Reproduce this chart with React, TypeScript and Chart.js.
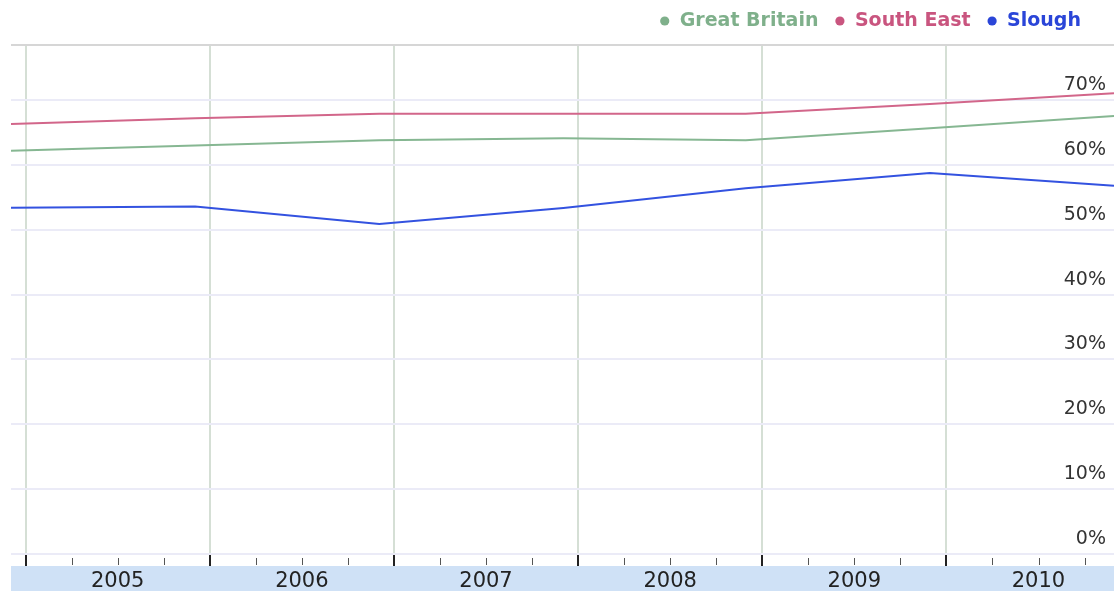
import React, { useEffect, useRef } from "react";
import { Chart, registerables } from "chart.js";

Chart.register(...registerables);

// Data
const pointDates = [2004.92, 2005.92, 2006.92, 2007.92, 2008.91, 2009.91, 2010.91];
const greatBritain = [62.2, 63.0, 63.8, 64.1, 63.8, 65.65, 67.55];
const southEast = [66.3, 67.2, 67.9, 67.9, 67.9, 69.4, 71.05];
const slough = [53.4, 53.6, 50.9, 53.35, 56.4, 58.76, 56.8];
const seriesNames = ["Great Britain", "South East", "Slough"];
const yearTicks = [2005, 2006, 2007, 2008, 2009, 2010];
const quarterOffsets = [0.25, 0.5, 0.75];
const yTicks = [0, 10, 20, 30, 40, 50, 60, 70];

const COLORS = ["#86b792", "#d2668a", "#3352e0"];
const TEXT_COLORS = ["#7fb08b", "#c9557f", "#2a45d8"];

const decorPlugin = {
  id: "decor",
  afterLayout(chart: any) {
    const lg = chart.legend;
    if (lg) {
      lg.top -= 4.5;
      lg.bottom -= 4.5;
      lg.right = 1097;
    }
  },
  beforeDraw(chart: any) {
    const ctx = chart.ctx;
    const x = chart.scales.x;
    const area = chart.chartArea;
    ctx.save();
    ctx.fillStyle = "#cfe1f6";
    ctx.fillRect(area.left, x.top + 12, area.right - area.left, x.bottom - (x.top + 12));
    ctx.restore();
  },
  afterDraw(chart: any) {
    const ctx = chart.ctx;
    const x = chart.scales.x;
    const area = chart.chartArea;
    ctx.save();
    // top border
    ctx.strokeStyle = "#d6d6d6";
    ctx.lineWidth = 2;
    ctx.beginPath();
    ctx.moveTo(area.left, area.top);
    ctx.lineTo(area.right, area.top);
    ctx.stroke();
    // minor quarter ticks
    ctx.strokeStyle = "#555";
    ctx.lineWidth = 1;
    for (let y = 2004; y <= 2011; y++) {
      for (const q of quarterOffsets) {
        const v = y + q;
        if (v < x.min || v > x.max) continue;
        const px = Math.round(x.getPixelForValue(v)) + 0.5;
        ctx.beginPath();
        ctx.moveTo(px, x.top + 4);
        ctx.lineTo(px, x.top + 11);
        ctx.stroke();
      }
    }
    ctx.restore();
  },
};

export default function App() {
  const ref = useRef<HTMLCanvasElement>(null);
  useEffect(() => {
    const series = [greatBritain, southEast, slough];
    const chart = new Chart(ref.current!, {
      type: "line",
      data: {
        datasets: series.map((s, i) => ({
          label: seriesNames[i],
          data: s.map((v, j) => ({ x: pointDates[j], y: v })),
          borderColor: COLORS[i],
          backgroundColor: COLORS[i],
          borderWidth: 2,
          pointRadius: 0,
          tension: 0,
          fill: false,
        })),
      },
      options: {
        animation: false,
        responsive: true,
        maintainAspectRatio: false,
        layout: { padding: { left: 11, right: 0, top: 0, bottom: 0 } },
        plugins: {
          tooltip: { enabled: false },
          legend: {
            position: "top",
            align: "end",
            labels: {
              usePointStyle: true,
              boxWidth: 11,
              boxHeight: 6.5,
              padding: 16,
              font: { family: "DejaVu Sans", size: 19, weight: "bold" },
              generateLabels: (ch: any) =>
                ch.data.datasets.map((d: any, i: number) => ({
                  text: d.label,
                  fillStyle: TEXT_COLORS[i],
                  strokeStyle: TEXT_COLORS[i],
                  fontColor: TEXT_COLORS[i],
                  lineWidth: 0,
                  pointStyle: "circle",
                  hidden: false,
                  datasetIndex: i,
                })),
            },
          },
        },
        scales: {
          x: {
            type: "linear",
            position: "bottom",
            min: pointDates[0],
            max: pointDates[pointDates.length - 1],
            afterBuildTicks: (scale: any) => {
              scale.ticks = yearTicks.map((v) => ({ value: v }));
            },
            afterFit: (scale: any) => {
              scale.height = 37;
              scale.paddingLeft = 0;
              scale.paddingRight = 0;
            },
            grid: {
              color: "#d5dfd5",
              lineWidth: 2,
              drawTicks: true,
              tickLength: 12,
              tickColor: "#222",
              tickWidth: 2,
            },
            border: { display: false },
            ticks: {
              autoSkip: false,
              maxRotation: 0,
              padding: 3,
              labelOffset: 92,
              color: "#222",
              font: { family: "DejaVu Sans", size: 21 },
              callback: (v: any) => String(v),
            },
          },
          y: {
            type: "linear",
            position: "right",
            min: 0,
            max: 78.5,
            afterBuildTicks: (scale: any) => {
              scale.ticks = yTicks.map((v) => ({ value: v }));
            },
            afterFit: (scale: any) => {
              scale.width = 0;
              scale.paddingTop = 0;
              scale.paddingBottom = 0;
            },
            grid: { color: "#ebebf7", lineWidth: 2, drawTicks: false },
            border: { display: false },
            ticks: {
              mirror: true,
              padding: -8,
              labelOffset: -15,
              color: "#333",
              font: { family: "DejaVu Sans", size: 19 },
              callback: (v: any) => v + "%",
            },
          },
        },
      },
      plugins: [decorPlugin],
    });
    return () => chart.destroy();
  }, []);
  return (
    <div style={{ position: "absolute", left: 0, top: 0, width: 1114, height: 591, background: "#fff" }}>
      <canvas ref={ref} />
    </div>
  );
}
